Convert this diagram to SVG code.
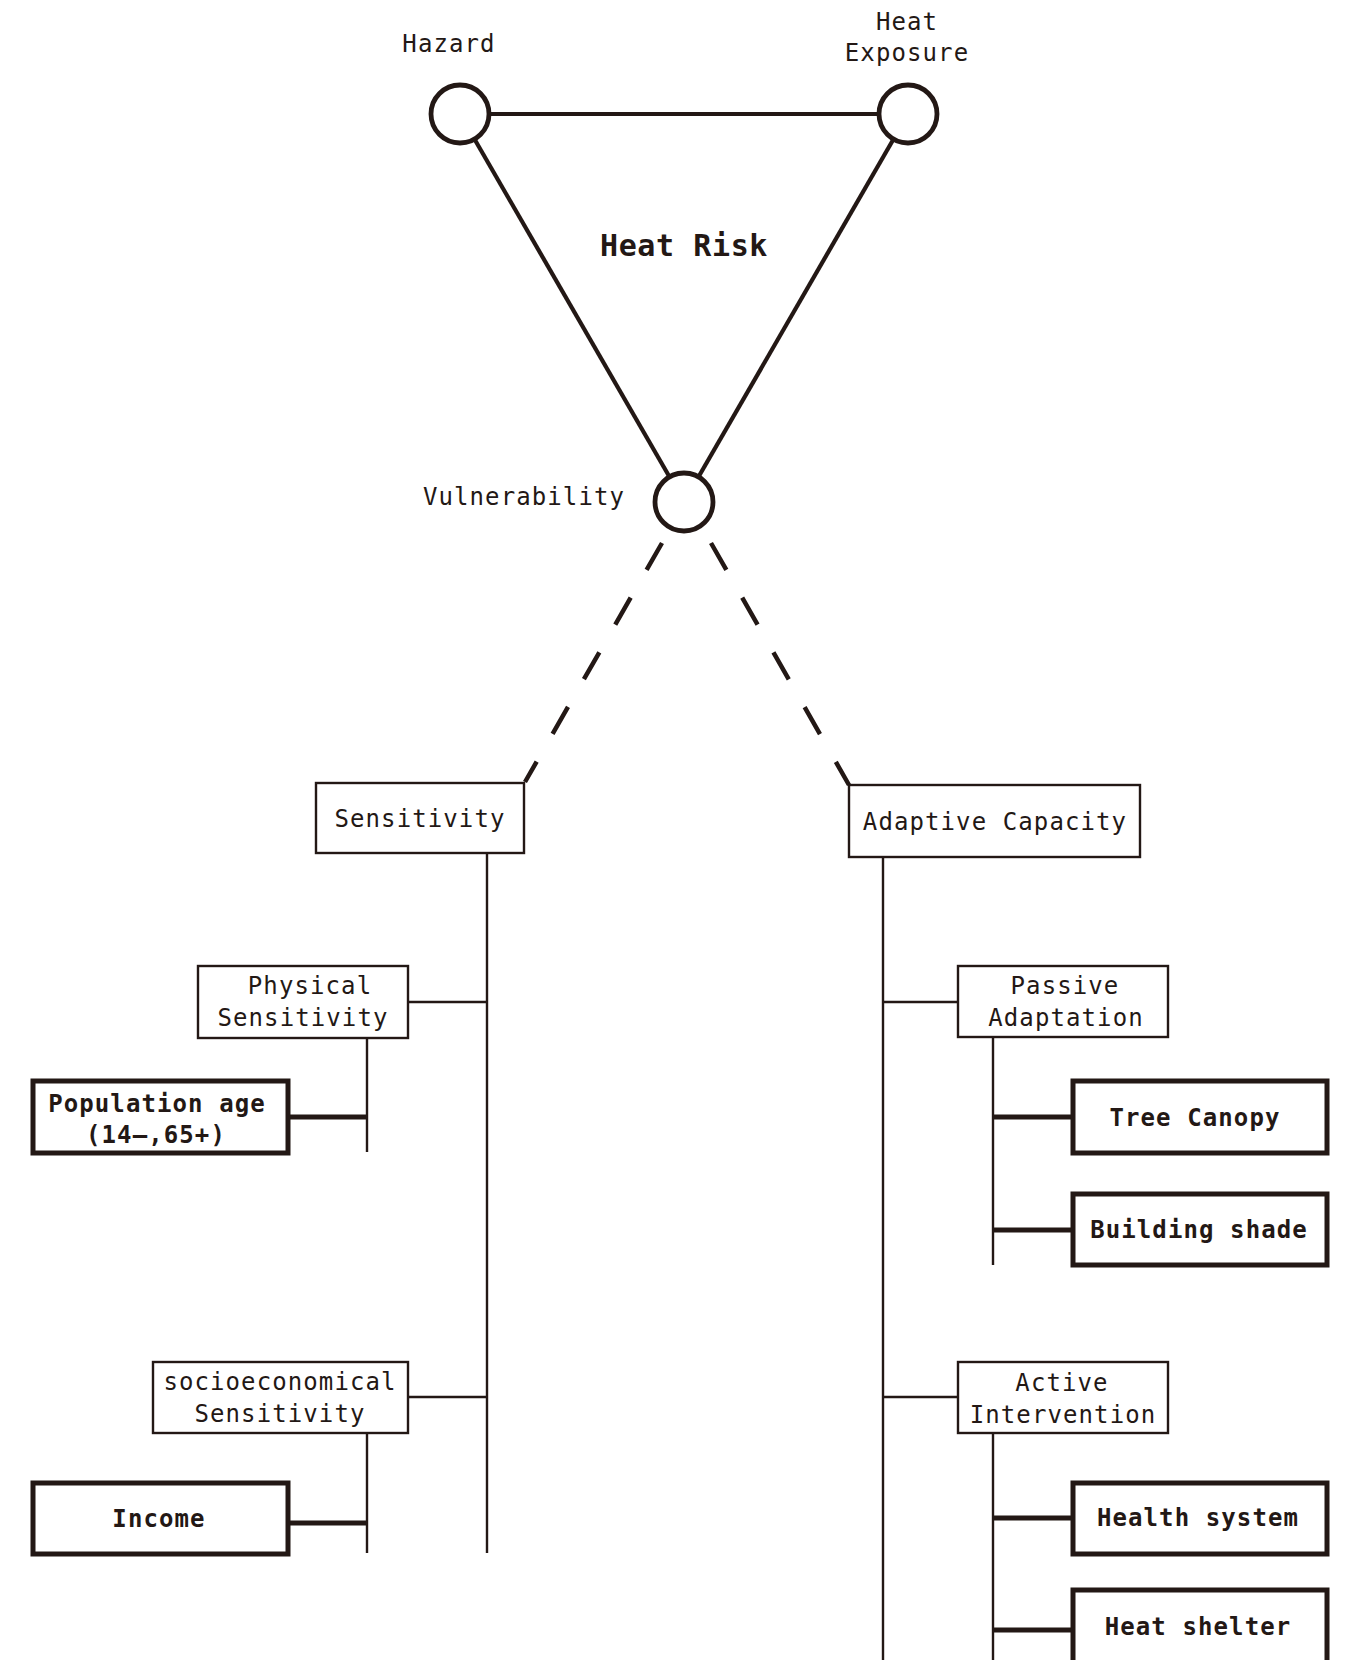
<svg xmlns="http://www.w3.org/2000/svg" width="1348" height="1660" viewBox="0 0 1348 1660">
  <style>
    text { font-family: "DejaVu Sans Mono", "Liberation Mono", monospace; font-size: 24px; letter-spacing: 1.1px; fill: #231815; text-anchor: middle; }
    .b { font-weight: bold; }
    .title { font-size: 30px; font-weight: bold; letter-spacing: 0.6px; }
    .ln { stroke: #231815; fill: none; }
    .tri { stroke-width: 4.2; }
    .dash { stroke-width: 4.5; stroke-dasharray: 31 32; }
    .thin { stroke-width: 2.4; }
    .thick { stroke-width: 5; }
    .node { fill: #fff; stroke: #231815; stroke-width: 4.8; }
    .box { fill: #fff; stroke: #231815; stroke-width: 2.4; }
    .bbox { fill: #fff; stroke: #231815; stroke-width: 5; }
  </style>

  <!-- connectors -->
  <g id="connectors">
    <!-- risk triangle -->
    <line class="ln tri" x1="460" y1="114" x2="908" y2="114"/>
    <line class="ln tri" x1="460" y1="114" x2="684" y2="502"/>
    <line class="ln tri" x1="908" y1="114" x2="684" y2="502"/>
    <!-- vulnerability split -->
    <line class="ln dash" x1="662" y1="543" x2="525" y2="782"/>
    <line class="ln dash" x1="711" y1="543" x2="849" y2="785"/>
    <!-- sensitivity tree -->
    <line class="ln thin" x1="487" y1="853" x2="487" y2="1553"/>
    <line class="ln thin" x1="408" y1="1002" x2="487" y2="1002"/>
    <line class="ln thin" x1="408" y1="1397" x2="487" y2="1397"/>
    <line class="ln thin" x1="367" y1="1038" x2="367" y2="1152"/>
    <line class="ln thick" x1="288" y1="1117" x2="367" y2="1117"/>
    <line class="ln thin" x1="367" y1="1433" x2="367" y2="1553"/>
    <line class="ln thick" x1="288" y1="1523" x2="367" y2="1523"/>
    <!-- adaptive capacity tree -->
    <line class="ln thin" x1="883" y1="857" x2="883" y2="1665"/>
    <line class="ln thin" x1="883" y1="1002" x2="958" y2="1002"/>
    <line class="ln thin" x1="883" y1="1397" x2="958" y2="1397"/>
    <line class="ln thin" x1="993" y1="1037" x2="993" y2="1265"/>
    <line class="ln thick" x1="993" y1="1117" x2="1073" y2="1117"/>
    <line class="ln thick" x1="993" y1="1230" x2="1073" y2="1230"/>
    <line class="ln thin" x1="993" y1="1433" x2="993" y2="1665"/>
    <line class="ln thick" x1="993" y1="1518" x2="1073" y2="1518"/>
    <line class="ln thick" x1="993" y1="1630" x2="1073" y2="1630"/>
  </g>

  <text class="title" x="684" y="256">Heat Risk</text>

  <g id="hazard">
    <circle class="node" cx="460" cy="114" r="29"/>
    <text x="449" y="52">Hazard</text>
  </g>
  <g id="heat-exposure">
    <circle class="node" cx="908" cy="114" r="29"/>
    <text x="907" y="30">Heat</text>
    <text x="907" y="61">Exposure</text>
  </g>
  <g id="vulnerability">
    <circle class="node" cx="684" cy="502" r="29"/>
    <text x="524" y="505">Vulnerability</text>
  </g>

  <g id="sensitivity">
    <rect class="box" x="316" y="783" width="208" height="70"/>
    <text x="420" y="827">Sensitivity</text>
  </g>
  <g id="adaptive-capacity">
    <rect class="box" x="849" y="785" width="291" height="72"/>
    <text x="995" y="830">Adaptive Capacity</text>
  </g>

  <g id="physical-sensitivity">
    <rect class="box" x="198" y="966" width="210" height="72"/>
    <text x="310" y="994">Physical</text>
    <text x="303" y="1026">Sensitivity</text>
  </g>
  <g id="population-age">
    <rect class="bbox" x="33" y="1081" width="255" height="72"/>
    <text class="b" x="157" y="1112">Population age</text>
    <text class="b" x="156" y="1143">(14–,65+)</text>
  </g>
  <g id="socioeconomical-sensitivity">
    <rect class="box" x="153" y="1362" width="255" height="71"/>
    <text x="280" y="1390">socioeconomical</text>
    <text x="280" y="1422">Sensitivity</text>
  </g>
  <g id="income">
    <rect class="bbox" x="33" y="1483" width="255" height="71"/>
    <text class="b" x="159" y="1527">Income</text>
  </g>

  <g id="passive-adaptation">
    <rect class="box" x="958" y="966" width="210" height="71"/>
    <text x="1065" y="994">Passive</text>
    <text x="1066" y="1026">Adaptation</text>
  </g>
  <g id="tree-canopy">
    <rect class="bbox" x="1073" y="1081" width="254" height="72"/>
    <text class="b" x="1195" y="1126">Tree Canopy</text>
  </g>
  <g id="building-shade">
    <rect class="bbox" x="1073" y="1194" width="254" height="71"/>
    <text class="b" x="1199" y="1238">Building shade</text>
  </g>
  <g id="active-intervention">
    <rect class="box" x="958" y="1362" width="210" height="71"/>
    <text x="1062" y="1391">Active</text>
    <text x="1063" y="1423">Intervention</text>
  </g>
  <g id="health-system">
    <rect class="bbox" x="1073" y="1483" width="254" height="71"/>
    <text class="b" x="1198" y="1526">Health system</text>
  </g>
  <g id="heat-shelter">
    <rect class="bbox" x="1073" y="1590" width="254" height="80"/>
    <text class="b" x="1198" y="1635">Heat shelter</text>
  </g>
</svg>
